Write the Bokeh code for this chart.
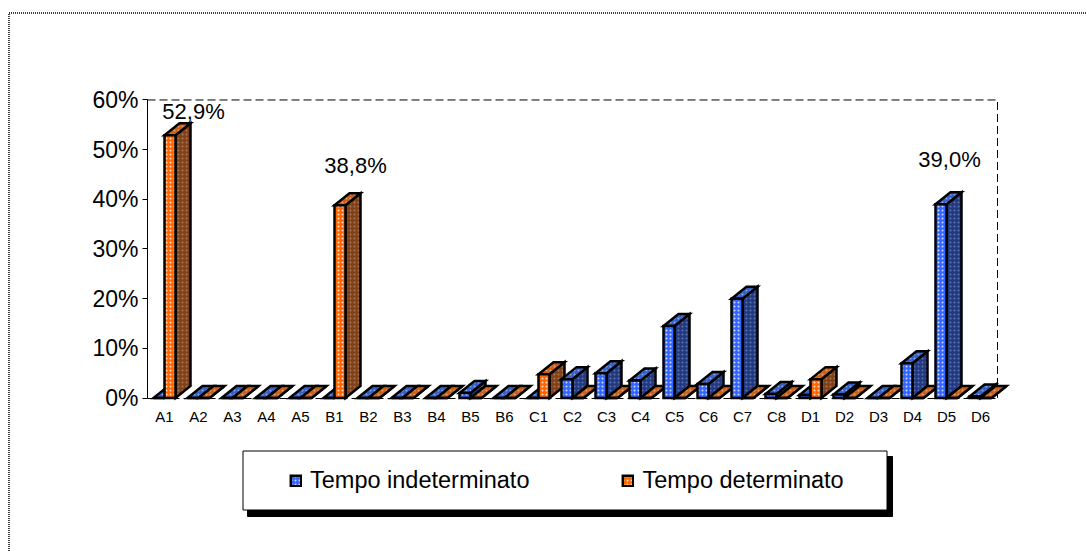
from bokeh.plotting import figure
from bokeh.models import (Range1d, FixedTicker, PrintfTickFormatter, BoxAnnotation, Legend, LegendItem,
                          ColumnDataSource)
from bokeh.core.properties import value
from bokeh.embed import file_html
from bokeh.resources import INLINE

categories = ["A1","A2","A3","A4","A5","B1","B2","B3","B4","B5","B6",
              "C1","C2","C3","C4","C5","C6","C7","C8","D1","D2","D3","D4","D5","D6"]
indeterminato = [0,0,0,0,0,0,0,0,0,1.0,0,0,3.8,5.0,3.5,14.5,2.8,20.0,0.8,0.6,0.7,0,7.0,39.0,0.3]
determinato   = [52.9,0,0,0,0,38.8,0,0,0,0,0,4.8,0,0,0,0,0,0,0,3.8,0,0,0,0,0]
y_ticks = [0,10,20,30,40,50,60]
label_cats = ["A1","B1","D5"]
label_values = [52.9,38.8,39.0]
label_texts = ["52,9%","38,8%","39,0%"]

FONT = "Liberation Sans"
W, H = 1087, 551
PX_X = 34.0        # px per category
PX_Y = 4.967       # px per percent
X0, Y0 = 147, 397.5   # pixel of data origin

p = figure(width=W, height=H, output_backend="svg", toolbar_location=None,
           x_range=Range1d(-X0 / PX_X, (W - X0) / PX_X),
           y_range=Range1d(-(H - Y0) / PX_Y, Y0 / PX_Y),
           min_border_left=0, min_border_right=0, min_border_top=0, min_border_bottom=0)
p.outline_line_color = None
p.grid.visible = False

bw = 11 / PX_X
dx, dy = 15 / PX_X, 12 / PX_Y
styles = [dict(front="#3366ff", side="#23397f", top="#3560c8", hf="#ccd9ff", hs="#5a73b0", ht="#8aa5e8"),
          dict(front="#ff6600", side="#80401a", top="#c8601a", hf="#ffe0c8", hs="#a87850", ht="#e8a070")]

d = dict(xs=[], ys=[], fill=[], hatch=[])
legend_idx = []
def add(xs, ys, fill, hatch):
    d["xs"].append(xs); d["ys"].append(ys); d["fill"].append(fill); d["hatch"].append(hatch)

for i, _ in enumerate(categories):
    c = i + 0.5
    for s, v in enumerate((indeterminato[i], determinato[i])):
        st = styles[s]
        x0 = c - bw + s * bw
        x1 = x0 + bw
        add([x1, x1 + dx, x1 + dx, x1], [0, dy, v + dy, v], st["side"], st["hs"])
        add([x0, x1, x1 + dx, x0 + dx], [v, v, v + dy, v + dy], st["top"], st["ht"])
        if i == 0:
            legend_idx.append(len(d["xs"]))
        add([x0, x1, x1, x0], [0, 0, v, v], st["front"], st["hf"])

# back walls (dashed)
p.line([0, 25, 25], [60, 60, 0], line_color="black", line_width=1, line_dash="8 4")

r = p.patches("xs", "ys", source=ColumnDataSource(d), fill_color="fill", line_color="black",
              line_width=2.5, line_join="miter", hatch_pattern="dot", hatch_color="hatch",
              hatch_scale=4, hatch_weight=1.2)

# data labels
lx = [categories.index(k) + 0.5 for k in label_cats]
p.text(lx, label_values, text=label_texts, text_font=value(FONT), text_font_size="22px", text_color="black",
       text_align="center", text_baseline="alphabetic",
       x_offset=[29, 21, 3], y_offset=[-24, -40, -45])

# axes
xa = p.xaxis[0]
xa.fixed_location = 0
xa.bounds = (0, 25)
xa.ticker = FixedTicker(ticks=[i + 0.5 for i in range(len(categories))])
xa.major_label_overrides = {i + 0.5: c for i, c in enumerate(categories)}
xa.major_tick_line_color = None
xa.minor_tick_line_color = None
xa.axis_line_dash = "8 4"
xa.axis_line_color = "black"
xa.major_label_text_font = FONT
xa.major_label_text_font_size = "15px"
xa.major_label_text_color = "black"
xa.major_label_standoff = 4

ya = p.yaxis[0]
ya.fixed_location = 0
ya.bounds = (0, 60)
ya.ticker = FixedTicker(ticks=y_ticks)
ya.formatter = PrintfTickFormatter(format="%d%%")
ya.major_tick_in = 0
ya.major_tick_out = 5
ya.minor_tick_line_color = None
ya.axis_line_color = "black"
ya.major_tick_line_color = "black"
ya.major_label_text_font = FONT
ya.major_label_text_font_size = "23px"
ya.major_label_text_color = "black"
ya.major_label_standoff = 4

canvas = dict(left_units="canvas", right_units="canvas", top_units="canvas", bottom_units="canvas")
# page frame (only top and left edges fall on the canvas)
p.add_layout(BoxAnnotation(left=8.5, right=W + 40, top=12.5, bottom=H + 40, **canvas,
                           fill_alpha=0, line_color="black", line_alpha=1, line_width=1.5, line_dash="1 1"))
# legend box and shadow
p.add_layout(BoxAnnotation(left=247, right=892, top=456, bottom=516, **canvas,
                           fill_color="black", fill_alpha=1, line_color="black", line_alpha=1))
p.add_layout(BoxAnnotation(left=242.5, right=886.5, top=450.5, bottom=509.5, **canvas,
                           fill_color="white", fill_alpha=1, line_color="black", line_alpha=1, line_width=1))

leg = Legend(items=[LegendItem(label="Tempo indeterminato", renderers=[r], index=legend_idx[0]),
                    LegendItem(label="Tempo determinato", renderers=[r], index=legend_idx[1])],
             orientation="horizontal", location=(289, H - 480 - 14), margin=0, padding=0,
             glyph_width=13, glyph_height=13, label_standoff=8, spacing=92,
             background_fill_alpha=0, border_line_color=None,
             label_text_font=FONT, label_text_font_size="23.5px", label_text_color="black")
p.add_layout(leg)

open("out.html", "w").write(file_html(p, INLINE))
